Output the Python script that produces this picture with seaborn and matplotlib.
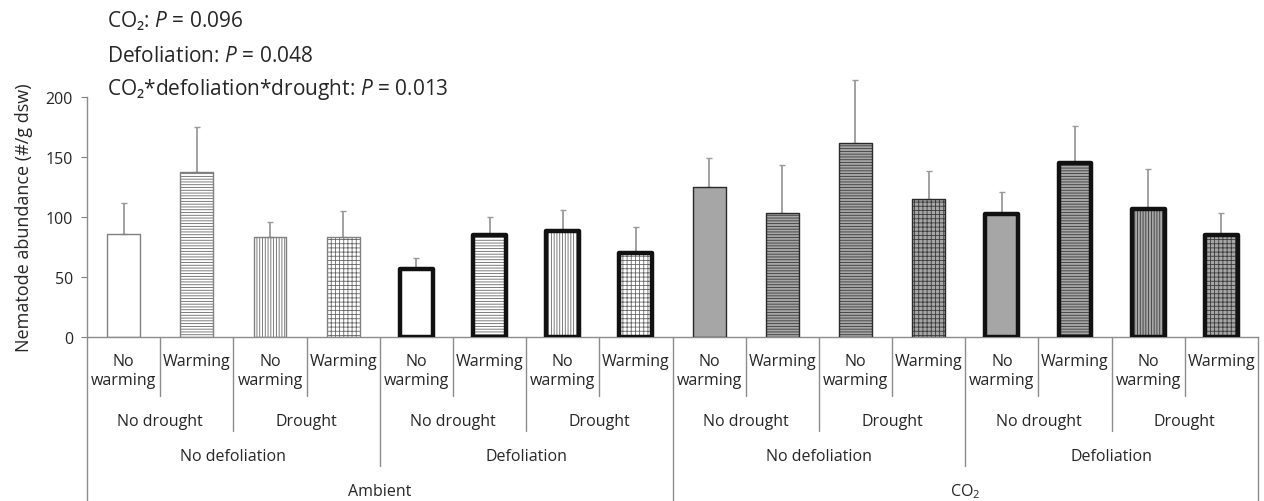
import numpy as np
import pandas as pd
import matplotlib
matplotlib.use('Agg')
import matplotlib.pyplot as plt
import seaborn as sns
from matplotlib.patches import Rectangle
from matplotlib.transforms import blended_transform_factory

# data
co2 = ['Ambient'] * 8 + ['CO$_2$'] * 8
defoliation = (['No defoliation'] * 4 + ['Defoliation'] * 4) * 2
drought = (['No drought'] * 2 + ['Drought'] * 2) * 4
warming = ['No\nwarming', 'Warming'] * 8
abundance = [86, 137.5, 83, 83, 57, 85, 88, 70,
             125, 103.5, 162, 115, 102.5, 145, 107, 85]
se = [26, 37.5, 13, 22, 9, 15, 18, 22,
      24, 39.5, 52, 23, 18.5, 31, 33, 18]
# fill pattern of each bar: none, horizontal, vertical, grid
pattern = ['', '-', '|', '+', '', '-', '|', '+',
           '', '-', '-', '+', '', '-', '|', '+']
annotations = ['CO\u2082: $\\it{P}$ = 0.096',
               'Defoliation: $\\it{P}$ = 0.048',
               'CO\u2082*defoliation*drought: $\\it{P}$ = 0.013']

df = pd.DataFrame({'co2': co2, 'defol': defoliation, 'drought': drought,
                   'warming': warming, 'abund': abundance, 'se': se,
                   'pattern': pattern})
df['label'] = [f't{i}' for i in range(len(df))]

sns.set_style('white')
plt.rcParams['font.family'] = ['Open Sans', 'DejaVu Sans']
plt.rcParams['mathtext.fontset'] = 'custom'
plt.rcParams['mathtext.rm'] = 'Open Sans'
plt.rcParams['mathtext.it'] = 'Open Sans:italic'
plt.rcParams['hatch.linewidth'] = 0.6

W, H = 1264, 502
fig = plt.figure(figsize=(W / 100, H / 100), dpi=100)
ax = fig.add_axes([87 / W, (H - 338) / H, (1258 - 87) / W, 240 / H])

sns.barplot(data=df, x='label', y='abund', order=df['label'], width=0.45,
            errorbar=None, color='white', ax=ax)

hatch_str = {'': '', '-': '------', '|': '||||||', '+': '++++'}

for patch, (_, row) in zip(ax.patches, df.iterrows()):
    elevated = row['co2'] != 'Ambient'
    fill = '#a6a6a6' if elevated else 'white'
    hcol = '#3a3a3a' if elevated else '#666666'
    patch.set_facecolor(fill)
    patch.set_hatch(hatch_str[row['pattern']])
    patch.set_edgecolor(hcol)
    patch.set_linewidth(0)
    if row['defol'] == 'Defoliation':
        ec, lw = '#111111', 3.2
    else:
        ec, lw = ('#2a2a2a' if elevated else '#808080'), 1.0
    ax.add_patch(Rectangle((patch.get_x(), patch.get_y()), patch.get_width(),
                           patch.get_height(), fill=False, edgecolor=ec,
                           linewidth=lw, zorder=3, joinstyle='round'))

x = np.arange(len(df))
ax.errorbar(x, df['abund'], yerr=[np.zeros(len(df)), df['se']], fmt='none',
            ecolor='#9a9a9a', elinewidth=1.3, capsize=2.5, capthick=1,
            zorder=2, clip_on=False)

ax.set_xlim(-0.5, len(df) - 0.5)
ax.set_ylim(0, 200)
ax.set_yticks([0, 50, 100, 150, 200])
ax.tick_params(axis='y', labelsize=11.5, length=4, color='#808080',
               direction='out', left=True, pad=6)
ax.set_xticks([])
ax.set_xlabel('')
ax.set_ylabel('Nematode abundance (#/g dsw)', fontsize=13, labelpad=9)
for s in ['top', 'right']:
    ax.spines[s].set_visible(False)
for s in ['left', 'bottom']:
    ax.spines[s].set_color('#8c8c8c')
    ax.spines[s].set_linewidth(1)

# hierarchical category axis
tr = blended_transform_factory(ax.transData, fig.transFigure)
def fy(px):
    return 1 - px / H

line_kw = dict(color='#8c8c8c', linewidth=1, transform=tr, clip_on=False)
for i in range(len(df) + 1):
    b = i - 0.5
    if i % 8 == 0:
        end = 502
    elif i % 4 == 0:
        end = 467
    elif i % 2 == 0:
        end = 432
    else:
        end = 397
    ax.plot([b, b], [fy(338), fy(end)], **line_kw)

lab_fs = 11.5
for i, lab in enumerate(df['warming']):
    ax.text(i, fy(354), lab, ha='center', va='top', fontsize=lab_fs,
            linespacing=1.25, transform=tr)
for i in range(0, len(df), 2):
    ax.text(i + 0.5, fy(422), df['drought'][i], ha='center', va='center',
            fontsize=lab_fs, transform=tr)
for i in range(0, len(df), 4):
    ax.text(i + 1.5, fy(457), df['defol'][i], ha='center', va='center',
            fontsize=lab_fs, transform=tr)
for i in range(0, len(df), 8):
    ax.text(i + 3.5, fy(492), df['co2'][i], ha='center', va='center',
            fontsize=lab_fs, transform=tr)

for txt, ypx in zip(annotations, [20, 56, 90]):
    fig.text(107 / W, fy(ypx), txt, ha='left', va='center', fontsize=15)

fig.savefig('out.png', dpi=100)
